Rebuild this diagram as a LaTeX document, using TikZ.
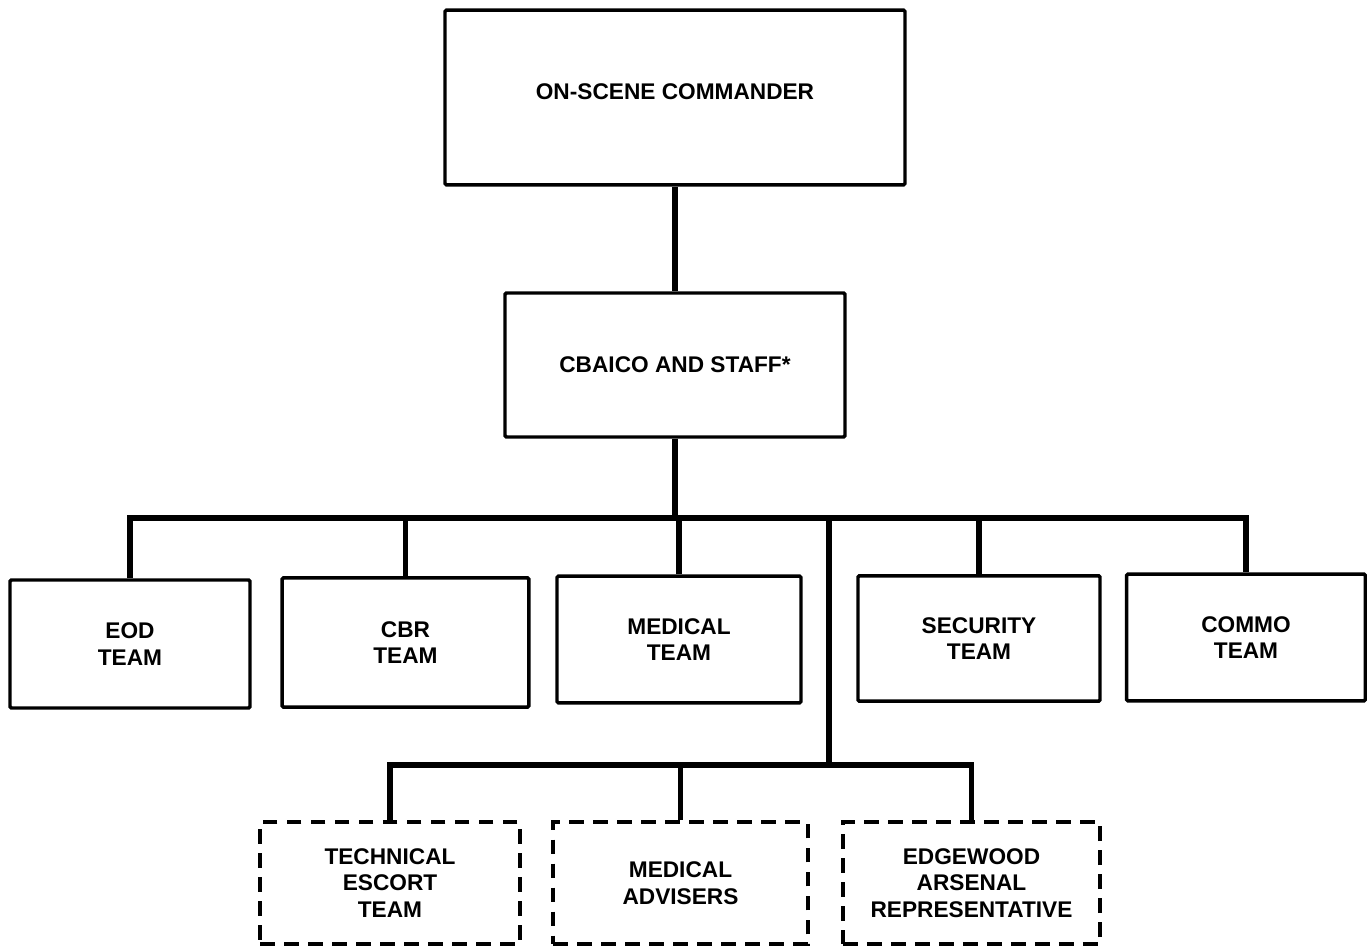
\documentclass[tikz,border=0pt]{standalone}
\usepackage{fontspec}
\setmainfont{Liberation Sans}
\usepackage{tikz}
\usepackage{xcolor}

\tikzset{
  unit/.style={draw, line width=2.6pt, rounded corners=1pt, align=center, inner sep=0pt,
    font=\bfseries\fontsize{17}{20}\selectfont},
  attached/.style={unit, dash pattern=on 11pt off 7pt, line width=3pt, rounded corners=0pt},
  link/.style={line width=3.8pt, line join=miter}
}

\begin{document}
\begin{tikzpicture}[x=0.75pt,y=0.75pt,yscale=-1,xscale=1]
\useasboundingbox (0,0) rectangle (1367,949);

%Shape: command boxes
\node [unit, minimum width=345pt, minimum height=131pt] (cmdr) at (675,97.5) {\raisebox{4pt}[\height][\depth]{ON-SCENE COMMANDER}};
\node [unit, minimum width=255pt, minimum height=108pt] (cbaico) at (675,365) {CBAICO AND STAFF*};

%Shape: team boxes
\node [unit, minimum width=180pt, minimum height=96pt] (eod) at (130,644) {EOD\\TEAM};
\node [unit, minimum width=185pt, minimum height=97pt] (cbr) at (405.5,642.5) {CBR\\TEAM};
\node [unit, minimum width=183pt, minimum height=95pt] (medteam) at (679,639.5) {MEDICAL\\TEAM};
\node [unit, minimum width=181.5pt, minimum height=94pt] (security) at (979,638.5) {SECURITY\\TEAM};
\node [unit, minimum width=179pt, minimum height=95pt] (commo) at (1246,637.5) {COMMO\\TEAM};

%Shape: attached (dashed) boxes
\node [attached, minimum width=195pt, minimum height=91pt] (escort) at (390,883) {TECHNICAL\\ESCORT\\TEAM};
\node [attached, minimum width=191pt, minimum height=91pt] (medadv) at (680.5,883) {MEDICAL\\ADVISERS};
\node [attached, minimum width=193pt, minimum height=91pt] (edgewood) at (971.5,883) {EDGEWOOD\\ARSENAL\\REPRESENTATIVE};

% bus points
\coordinate (bus) at (675,518);
\coordinate (split) at (829,518);
\coordinate (sub) at (829,765);

%Straight Lines: chain of command
\draw [link] (cmdr) -- (cbaico);
\draw [link] (cbaico) -- (bus);
\draw [link] (eod.north) |- (bus) -| (commo.north);
\draw [link] (cbr.north) -- (cbr.north |- bus);
\draw [link] (medteam.north) -- (medteam.north |- bus);
\draw [link] (security.north) -- (security.north |- bus);

%Straight Lines: attached elements
\draw [link] (split) -- (sub);
\draw [link] (escort.north) |- (sub) -| (edgewood.north);
\draw [link] (medadv.north) -- (medadv.north |- sub);

\end{tikzpicture}
\end{document}
